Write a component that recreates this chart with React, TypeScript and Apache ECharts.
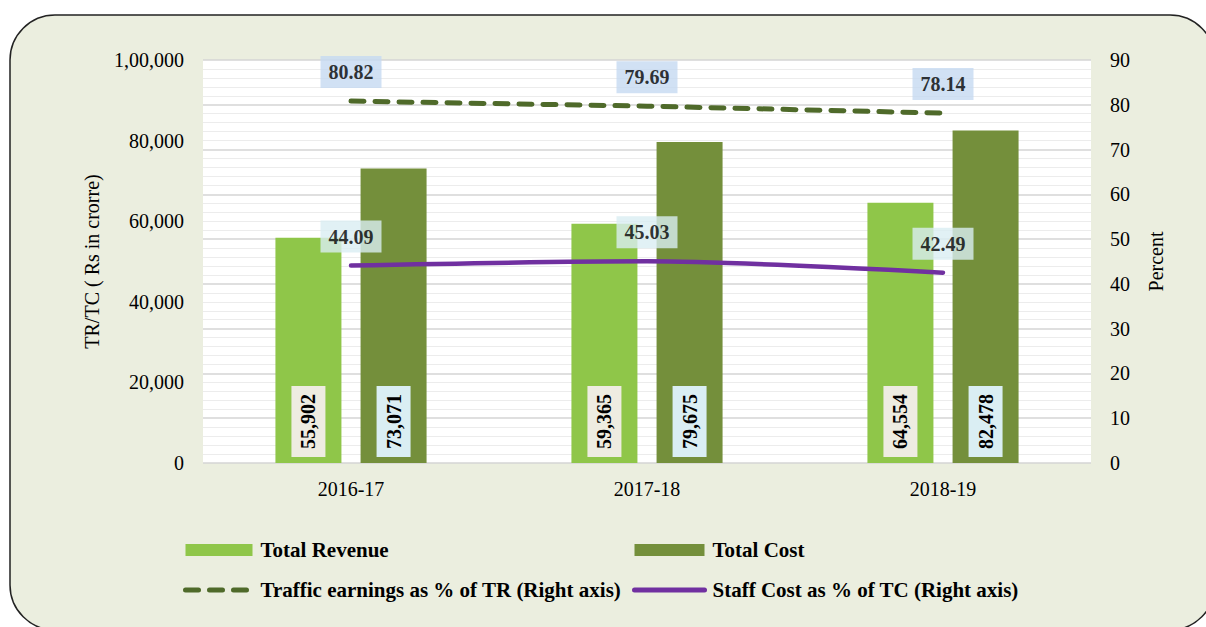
import React, { useEffect, useRef } from "react";
import * as echarts from "echarts";

const categories = ["2016-17", "2017-18", "2018-19"];
const totalRevenue = [55902, 59365, 64554];
const totalCost = [73071, 79675, 82478];
const trafficPct = [80.82, 79.69, 78.14];
const staffPct = [44.09, 45.03, 42.49];

const FONT = "'Liberation Serif', 'Times New Roman', serif";
const TRAFFIC = "Traffic earnings as % of TR (Right axis)";
const STAFF = "Staff Cost as % of TC (Right axis)";

function indian(v: number): string {
  const s = String(Math.round(v));
  if (s.length <= 3) return s;
  const last3 = s.slice(-3);
  let rest = s.slice(0, -3);
  const parts: string[] = [];
  while (rest.length > 2) {
    parts.unshift(rest.slice(-2));
    rest = rest.slice(0, -2);
  }
  if (rest) parts.unshift(rest);
  return parts.join(",") + "," + last3;
}

function western(v: number): string {
  return String(v).replace(/\B(?=(\d{3})+(?!\d))/g, ",");
}

export default function App() {
  const ref = useRef<HTMLDivElement>(null);
  useEffect(() => {
    if (!ref.current) return;
    const chart = echarts.init(ref.current, undefined, { renderer: "svg" });
    const barLabel = (bg: string) => ({
      show: true,
      position: "insideBottom" as const,
      rotate: 90,
      align: "left" as const,
      verticalAlign: "middle" as const,
      distance: 6,
      formatter: (p: any) => western(p.value),
      color: "#000",
      fontFamily: FONT,
      fontWeight: "bold" as const,
      fontSize: 20,
      backgroundColor: bg,
      padding: [7, 8],
    });
    const labelSeries = (data: number[], bg: string) => ({
      type: "scatter",
      yAxisIndex: 1,
      data,
      symbolSize: 0,
      silent: true,
      z: 6,
      label: {
        show: true,
        position: "top" as const,
        distance: 13,
        formatter: (p: any) => Number(p.value).toFixed(2),
        color: "#000",
        fontFamily: FONT,
        fontWeight: "bold" as const,
        fontSize: 20,
        backgroundColor: bg,
        padding: [6, 8],
      },
    });
    const legendText = {
      fontFamily: FONT,
      fontWeight: "bold",
      fontSize: 21,
      color: "#000",
      lineHeight: 22,
    };
    chart.setOption({
      animation: false,
      backgroundColor: "#ffffff",
      textStyle: { fontFamily: FONT },
      graphic: [
        {
          type: "rect",
          z: -10,
          shape: { x: 10, y: 15, width: 1205, height: 615, r: 45 },
          style: { fill: "#EBEEDF", stroke: "#222", lineWidth: 1.5 },
        },
        {
          type: "rect",
          z: -9,
          shape: { x: 203, y: 60, width: 888, height: 403 },
          style: { fill: "#ffffff" },
        },
      ],
      grid: { left: 203, right: 115, top: 60, bottom: 164 },
      legend: [
        {
          orient: "vertical",
          left: 183,
          top: 539,
          padding: 0,
          itemWidth: 67,
          itemHeight: 12,
          itemGap: 18,
          textStyle: { ...legendText, padding: [0, 0, 0, 3] },
          data: [
            { name: "Total Revenue", icon: "rect" },
            {
              name: TRAFFIC,
              itemStyle: { opacity: 0 },
              lineStyle: { width: 5, type: [13, 11], cap: "round", color: "#4F6A2A" },
            },
          ],
        },
        {
          orient: "vertical",
          left: 632,
          top: 539,
          padding: 0,
          itemWidth: 70,
          itemHeight: 12,
          itemGap: 18,
          textStyle: { ...legendText, padding: [0, 0, 0, 3] },
          data: [
            { name: "Total Cost", icon: "rect" },
            {
              name: STAFF,
              itemStyle: { opacity: 0 },
              lineStyle: { width: 5, cap: "round", color: "#7030A0" },
            },
          ],
        },
      ],
      xAxis: {
        type: "category",
        data: categories,
        axisLine: { show: false },
        axisTick: { show: false },
        axisLabel: { color: "#000", fontFamily: FONT, fontSize: 20, margin: 16 },
      },
      yAxis: [
        {
          type: "value",
          min: 0,
          max: 100000,
          interval: 20000,
          name: "TR/TC ( Rs in crorre)",
          nameLocation: "middle",
          nameGap: 101,
          nameTextStyle: { color: "#000", fontFamily: FONT, fontSize: 20 },
          axisLine: { show: false },
          axisTick: { show: false },
          splitLine: { show: false },
          axisLabel: {
            color: "#000",
            fontFamily: FONT,
            fontSize: 20,
            margin: 19,
            formatter: (v: number) => indian(v),
          },
        },
        {
          type: "value",
          min: 0,
          max: 90,
          interval: 10,
          name: "Percent",
          nameLocation: "middle",
          nameGap: 55,
          nameTextStyle: { color: "#000", fontFamily: FONT, fontSize: 20 },
          axisLine: { show: false },
          axisTick: { show: false },
          splitLine: { show: true, lineStyle: { color: "#d4d4d4", width: 1.5 } },
          minorTick: { show: false, splitNumber: 5 },
          minorSplitLine: { show: true, lineStyle: { color: "#ececec", width: 1 } },
          axisLabel: { color: "#000", fontFamily: FONT, fontSize: 20, margin: 19 },
        },
      ],
      series: [
        {
          name: "Total Revenue",
          type: "bar",
          data: totalRevenue,
          barWidth: 66,
          barGap: "29%",
          itemStyle: { color: "#8FC649" },
          label: barLabel("#EEECE1"),
        },
        {
          name: "Total Cost",
          type: "bar",
          data: totalCost,
          barWidth: 66,
          itemStyle: { color: "#748F3B" },
          label: barLabel("#DAEEF3"),
        },
        {
          name: TRAFFIC,
          type: "line",
          yAxisIndex: 1,
          data: trafficPct,
          symbol: "none",
          z: 5,
          lineStyle: { color: "#4F6A2A", width: 5, type: [13, 11], cap: "round" },
          itemStyle: { color: "#4F6A2A" },
        },
        {
          name: STAFF,
          type: "line",
          yAxisIndex: 1,
          data: staffPct,
          symbol: "none",
          smooth: 0.3,
          z: 5,
          lineStyle: { color: "#7030A0", width: 4.5, cap: "round" },
          itemStyle: { color: "#7030A0" },
        },
        labelSeries(trafficPct, "#C5D9F1"),
        labelSeries(staffPct, "#DAEEF3"),
      ],
    });
    return () => chart.dispose();
  }, []);
  return (
    <div
      ref={ref}
      style={{ position: "fixed", left: 0, top: 0, width: 1206, height: 627 }}
    />
  );
}
